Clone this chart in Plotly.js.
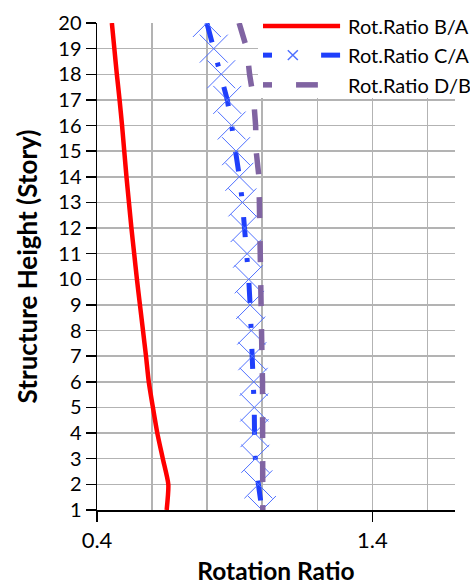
<!DOCTYPE html>
<html>
<head>
<meta charset="utf-8">
<script src="https://cdn.plot.ly/plotly-3.0.1.min.js"></script>
<style>
  html, body { margin: 0; padding: 0; background: #fff; }
  #chart { width: 470px; height: 585px; }
</style>
</head>
<body>
<div id="chart"></div>
<script>
// Stories listed from top (20) to base (1), the order the lines are drawn in
var stories = [20, 19, 18, 17, 16, 15, 14, 13, 12, 11, 10, 9, 8, 7, 6, 5, 4, 3, 2, 1];
var ratioBA = [0.454, 0.463, 0.472, 0.482, 0.491, 0.499, 0.507, 0.516, 0.525, 0.535,
               0.545, 0.556, 0.567, 0.578, 0.588, 0.603, 0.619, 0.639, 0.659, 0.653];
var ratioCA = [0.799, 0.824, 0.851, 0.873, 0.889, 0.905, 0.917, 0.928, 0.936, 0.945,
               0.951, 0.956, 0.960, 0.964, 0.969, 0.971, 0.972, 0.975, 0.986, 0.999];
var ratioDB = [0.916, 0.944, 0.954, 0.969, 0.976, 0.978, 0.988, 0.989, 0.991, 0.993,
               0.994, 0.996, 0.997, 0.999, 1.001, 1.001, 1.001, 1.001, 1.002, 1.002];
var seriesNames = ['Rot.Ratio B/A', 'Rot.Ratio C/A', 'Rot.Ratio D/B'];
var xTickVals = [0.4, 1.4];
var xTickText = ['0.4', '1.4'];
var xMinorGrid = [0.6, 0.8, 1.0, 1.2, 1.6];

var RED = '#ff0000', BLUE = '#1f3ffb', BLUE_MK = '#4f70ff', PURPLE = '#8064a2';
var GRID = '#b3b3b3';
var FONT = 'Lato, Open Sans, sans-serif';

var traces = [
  { x: ratioBA, y: stories, name: seriesNames[0], mode: 'lines',
    line: { color: RED, width: 4.5, shape: 'spline', smoothing: 0.6 } },
  { x: ratioCA, y: stories, name: seriesNames[1], mode: 'lines+markers',
    line: { color: BLUE, width: 5, dash: '20px,21px,4px,21px' },
    marker: { symbol: 'x-thin-open', size: 28, color: BLUE_MK, line: { width: 1, color: BLUE_MK } } },
  { x: ratioDB, y: stories, name: seriesNames[2], mode: 'lines',
    line: { color: PURPLE, width: 5.5, dash: '21px,23px' } }
];

// custom legend (paper coordinates)
var lx0 = 0.4637, lx1 = 0.679, ltx = 0.6955;
var rows = [0.994, 0.934, 0.873];
var shapes = [
  { type: 'rect', xref: 'paper', yref: 'paper', x0: 0.4497, x1: 1.05, y0: 0.846, y1: 1.06,
    fillcolor: '#ffffff', line: { width: 0 }, layer: 'above' },
  { type: 'line', xref: 'paper', yref: 'paper', x0: lx0, x1: lx1, y0: rows[0], y1: rows[0],
    line: { color: RED, width: 4.5 }, layer: 'above' },
  { type: 'line', xref: 'paper', yref: 'paper', x0: lx0, x1: 0.4888, y0: rows[1], y1: rows[1],
    line: { color: BLUE, width: 5 }, layer: 'above' },
  { type: 'line', xref: 'paper', yref: 'paper', x0: 0.626, x1: lx1, y0: rows[1], y1: rows[1],
    line: { color: BLUE, width: 5 }, layer: 'above' },
  { type: 'path', xref: 'paper', yref: 'paper',
    path: 'M0.533,0.924 L0.561,0.944 M0.533,0.944 L0.561,0.924',
    line: { color: BLUE_MK, width: 1.5 }, layer: 'above' },
  { type: 'line', xref: 'paper', yref: 'paper', x0: lx0, x1: 0.4888, y0: rows[2], y1: rows[2],
    line: { color: PURPLE, width: 5.5 }, layer: 'above' },
  { type: 'line', xref: 'paper', yref: 'paper', x0: 0.556, x1: 0.617, y0: rows[2], y1: rows[2],
    line: { color: PURPLE, width: 5.5 }, layer: 'above' }
];
var annotations = seriesNames.map(function (n, i) {
  return { text: n, xref: 'paper', yref: 'paper', x: ltx, y: rows[i], xanchor: 'left', yanchor: 'middle',
           showarrow: false, font: { family: FONT, size: 20, color: '#000' } };
});

var layout = {
  width: 470, height: 585,
  margin: { l: 97, r: 15, t: 23, b: 75 },
  paper_bgcolor: '#ffffff', plot_bgcolor: '#ffffff',
  showlegend: false,
  xaxis: {
    range: [0.4, 1.7], tickmode: 'array', tickvals: xTickVals, ticktext: xTickText,
    ticks: 'outside', ticklen: 10, tickwidth: 1.5, tickcolor: '#000',
    showline: true, linecolor: '#000', linewidth: 1.5, zeroline: false,
    showgrid: true, gridcolor: GRID, gridwidth: 1.5,
    minor: { tickmode: 'array', tickvals: xMinorGrid, showgrid: true, gridcolor: GRID, gridwidth: 1.5, ticks: '' },
    tickfont: { family: FONT, size: 22, color: '#000' },
    title: { text: 'Rotation Ratio', font: { family: FONT, size: 24.5, color: '#000', weight: 'bold' }, standoff: 11 }
  },
  yaxis: {
    range: [1, 20], tickmode: 'array', tickvals: stories,
    ticks: 'outside', ticklen: 10, tickwidth: 1.5, tickcolor: '#000',
    showline: true, linecolor: '#000', linewidth: 1.5, zeroline: false,
    showgrid: true, gridcolor: GRID, gridwidth: 1.5,
    tickfont: { family: FONT, size: 20, color: '#000' },
    title: { text: 'Structure Height (Story)', font: { family: FONT, size: 26, color: '#000', weight: 'bold' }, standoff: 13 }
  },
  shapes: shapes,
  annotations: annotations
};

Plotly.newPlot('chart', traces, layout, { staticPlot: true, displayModeBar: false });
</script>
</body>
</html>
